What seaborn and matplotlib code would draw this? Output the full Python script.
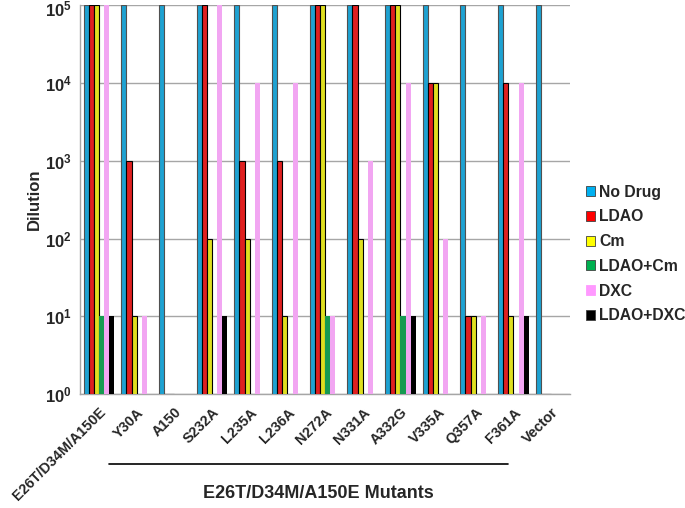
import matplotlib
matplotlib.use("Agg")
import matplotlib.pyplot as plt
import matplotlib.patches as mpatches
import matplotlib.transforms as mtransforms
import numpy as np
import pandas as pd
import seaborn as sns

sns.set_style("white")
plt.rcParams['font.family'] = ['Liberation Sans', 'DejaVu Sans']
plt.rcParams['mathtext.fontset'] = 'custom'
plt.rcParams['mathtext.bf'] = 'Liberation Sans:bold'
plt.rcParams['mathtext.rm'] = 'Liberation Sans'

strains = ["E26T/D34M/A150E", "Y30A", "A150", "S232A", "L235A", "L236A",
           "N272A", "N331A", "A332G", "V335A", "Q357A", "F361A", "Vector"]
conditions = ["No Drug", "LDAO", "Cm", "LDAO+Cm", "DXC", "LDAO+DXC"]

# dilution reached (1 = no growth)
no_drug   = [1e5, 1e5, 1e5, 1e5, 1e5, 1e5, 1e5, 1e5, 1e5, 1e5, 1e5, 1e5, 1e5]
ldao      = [1e5, 1e3, 1,   1e5, 1e3, 1e3, 1e5, 1e5, 1e5, 1e4, 10,  1e4, 1]
cm        = [1e5, 10,  1,   100, 100, 10,  1e5, 100, 1e5, 1e4, 10,  10,  1]
ldao_cm   = [10,  1,   1,   1,   1,   1,   10,  1,   10,  1,   1,   1,   1]
dxc       = [1e5, 10,  1,   1e5, 1e4, 1e4, 10,  1e3, 1e4, 100, 10,  1e4, 1]
ldao_dxc  = [10,  1,   1,   10,  1,   1,   1,   1,   10,  1,   1,   10,  1]

colors = ["#00B0F0", "#FF0000", "#FFFF00", "#00B050", "#FF99FF", "#000000"]
edges = ["#505050", "#000000", "#000000", "none", "none", "none"]

series = [no_drug, ldao, cm, ldao_cm, dxc, ldao_dxc]
rows = []
for cond, vals in zip(conditions, series):
    for s, v in zip(strains, vals):
        rows.append({"strain": s, "condition": cond, "dilution": v})
df = pd.DataFrame(rows)

fig = plt.figure(figsize=(6.85, 5.08), dpi=100)
ax = fig.add_axes([0.117, 0.224, 0.715, 0.766])

sns.barplot(data=df, x="strain", y="dilution", hue="condition",
            order=strains, hue_order=conditions, palette=colors,
            width=0.82, errorbar=None, ax=ax, legend=False, zorder=3)
ax.set_yscale("log")
ax.set_ylim(1, 1e5)
ax.set_xlim(-0.5, 12.5)

for cont, ec in zip(ax.containers, edges):
    for bar in cont:
        if ec == "none":
            bar.set_edgecolor("none")
        else:
            bar.set_edgecolor(ec)
            bar.set_linewidth(0.8)

# grid and axes
ax.yaxis.grid(True, color="#A6A6A6", linewidth=1.0, zorder=0)
ax.set_axisbelow(True)
for sp in ["top", "right"]:
    ax.spines[sp].set_visible(False)
for sp in ["left", "bottom"]:
    ax.spines[sp].set_color("#A6A6A6")
    ax.spines[sp].set_linewidth(1.0)

ax.set_yticks([1, 10, 100, 1e3, 1e4, 1e5])
ax.set_yticklabels([r"$\mathbf{10^{%d}}$" % i for i in range(6)], fontsize=12)
ax.yaxis.set_minor_locator(matplotlib.ticker.NullLocator())
ax.tick_params(axis="y", length=4, color="#A6A6A6", pad=2)
# keep the top label inside the figure
top_lab = ax.get_yticklabels()[-1]
top_lab.set_transform(top_lab.get_transform() +
                      mtransforms.ScaledTranslation(0, -3 / 100, fig.dpi_scale_trans))

ax.set_xticks(range(len(strains)))
ax.set_xticklabels(strains, rotation=45, ha="right", rotation_mode="anchor",
                   fontsize=10.4, fontweight="bold")
ax.set_xticks(np.arange(-0.5, len(strains), 1), minor=True)
ax.tick_params(axis="x", which="major", length=0, pad=8)
ax.tick_params(axis="x", which="minor", length=5, color="#A6A6A6")
ax.set_xlabel("")
ax.set_ylabel("Dilution", fontsize=12, fontweight="bold", labelpad=2)

# bracket line and group caption
fig.add_artist(plt.Line2D([109 / 685, 508 / 685], [1 - 464 / 508, 1 - 464 / 508],
                          color="black", linewidth=1.2))
fig.text(318 / 685, 1 - 494 / 508, "E26T/D34M/A150E Mutants", ha="center",
         va="center", fontsize=13, fontweight="bold")

handles = [mpatches.Patch(facecolor=c, edgecolor=("#404040" if c != "#FF99FF" else c),
                          linewidth=0.6) for c in colors]
leg = fig.legend(handles, conditions, loc="center left",
                 bbox_to_anchor=(586 / 685, 1 - 254 / 508), frameon=False,
                 borderaxespad=0, borderpad=0,
                 handlelength=0.6, handleheight=0.6, handletextpad=0.25,
                 labelspacing=0.62, prop={"weight": "bold", "size": 11.3})

fig.savefig("out.png", dpi=100)
